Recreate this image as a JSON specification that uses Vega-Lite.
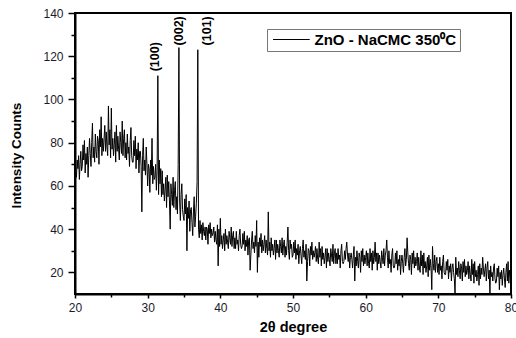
{
"$schema": "https://vega.github.io/schema/vega-lite/v6.json",
"width": 436, "height": 281,
"autosize": {"type": "none"},
"padding": {"left": 75, "top": 13, "right": 5, "bottom": 44},
"background": "white",
"config": {
  "view": {"stroke": "black", "strokeWidth": 2},
  "font": "Liberation Sans",
  "axis": {"domainColor": "black", "domainWidth": 2, "tickColor": "black", "tickWidth": 1.5, "grid": false, "labelFlush": false, "labelFont": "Liberation Sans", "labelFontSize": 12, "labelColor": "#1a1a2a", "titleFont": "Liberation Sans", "titleFontWeight": "bold", "titleColor": "black"}
},
"resolve": {"axis": {"x": "independent", "y": "independent"}},
"layer": [
{
"data": {"values": [
{"x":20.0,"y":62},{"x":20.1,"y":66},{"x":20.2,"y":64},{"x":20.3,"y":72},{"x":20.4,"y":68},{"x":20.5,"y":74},{"x":20.6,"y":63},{"x":20.7,"y":70},{"x":20.8,"y":76},{"x":20.9,"y":67},
{"x":21.0,"y":69},{"x":21.1,"y":79},{"x":21.2,"y":72},{"x":21.3,"y":81},{"x":21.4,"y":66},{"x":21.5,"y":75},{"x":21.6,"y":70},{"x":21.7,"y":78},{"x":21.8,"y":64},{"x":21.9,"y":74},
{"x":22.0,"y":82},{"x":22.1,"y":75},{"x":22.2,"y":69},{"x":22.3,"y":80},{"x":22.4,"y":89},{"x":22.5,"y":73},{"x":22.6,"y":78},{"x":22.7,"y":71},{"x":22.8,"y":84},{"x":22.9,"y":76},
{"x":23.0,"y":73},{"x":23.1,"y":83},{"x":23.2,"y":81},{"x":23.3,"y":70},{"x":23.4,"y":86},{"x":23.5,"y":78},{"x":23.6,"y":92},{"x":23.7,"y":74},{"x":23.8,"y":82},{"x":23.9,"y":76},
{"x":24.0,"y":82},{"x":24.1,"y":88},{"x":24.2,"y":76},{"x":24.3,"y":85},{"x":24.4,"y":78},{"x":24.5,"y":74},{"x":24.6,"y":97},{"x":24.7,"y":79},{"x":24.8,"y":86},{"x":24.9,"y":73},
{"x":25.0,"y":96},{"x":25.1,"y":77},{"x":25.2,"y":82},{"x":25.3,"y":74},{"x":25.4,"y":79},{"x":25.5,"y":85},{"x":25.6,"y":71},{"x":25.7,"y":88},{"x":25.8,"y":76},{"x":25.9,"y":83},
{"x":26.0,"y":77},{"x":26.1,"y":72},{"x":26.2,"y":85},{"x":26.3,"y":80},{"x":26.4,"y":75},{"x":26.5,"y":90},{"x":26.6,"y":74},{"x":26.7,"y":82},{"x":26.8,"y":86},{"x":26.9,"y":73},
{"x":27.0,"y":80},{"x":27.1,"y":72},{"x":27.2,"y":84},{"x":27.3,"y":75},{"x":27.4,"y":78},{"x":27.5,"y":69},{"x":27.6,"y":81},{"x":27.7,"y":87},{"x":27.8,"y":74},{"x":27.9,"y":71},
{"x":28.0,"y":71},{"x":28.1,"y":81},{"x":28.2,"y":74},{"x":28.3,"y":83},{"x":28.4,"y":68},{"x":28.5,"y":77},{"x":28.6,"y":72},{"x":28.7,"y":80},{"x":28.8,"y":66},{"x":28.9,"y":76},
{"x":29.0,"y":76},{"x":29.1,"y":69},{"x":29.2,"y":48},{"x":29.3,"y":74},{"x":29.4,"y":82},{"x":29.5,"y":67},{"x":29.6,"y":72},{"x":29.7,"y":65},{"x":29.8,"y":78},{"x":29.9,"y":70},
{"x":30.0,"y":60},{"x":30.1,"y":70},{"x":30.2,"y":68},{"x":30.3,"y":57},{"x":30.4,"y":72},{"x":30.5,"y":65},{"x":30.6,"y":82},{"x":30.7,"y":61},{"x":30.8,"y":69},{"x":30.9,"y":63},
{"x":31.0,"y":64},{"x":31.1,"y":70},{"x":31.2,"y":58},{"x":31.3,"y":67},{"x":31.4,"y":111},{"x":31.5,"y":56},{"x":31.6,"y":72},{"x":31.7,"y":61},{"x":31.8,"y":68},{"x":31.9,"y":55},
{"x":32.0,"y":67},{"x":32.1,"y":56},{"x":32.2,"y":61},{"x":32.3,"y":53},{"x":32.4,"y":58},{"x":32.5,"y":64},{"x":32.6,"y":50},{"x":32.7,"y":65},{"x":32.8,"y":55},{"x":32.9,"y":62},
{"x":33.0,"y":53},{"x":33.1,"y":40},{"x":33.2,"y":61},{"x":33.3,"y":56},{"x":33.4,"y":51},{"x":33.5,"y":64},{"x":33.6,"y":50},{"x":33.7,"y":58},{"x":33.8,"y":62},{"x":33.9,"y":49},
{"x":34.0,"y":55},{"x":34.1,"y":47},{"x":34.2,"y":70},{"x":34.3,"y":124},{"x":34.4,"y":53},{"x":34.5,"y":44},{"x":34.6,"y":56},{"x":34.7,"y":61},{"x":34.8,"y":49},{"x":34.9,"y":46},
{"x":35.0,"y":44},{"x":35.1,"y":54},{"x":35.2,"y":47},{"x":35.3,"y":56},{"x":35.4,"y":30},{"x":35.5,"y":50},{"x":35.6,"y":45},{"x":35.7,"y":53},{"x":35.8,"y":39},{"x":35.9,"y":49},
{"x":36.0,"y":50},{"x":36.1,"y":43},{"x":36.2,"y":37},{"x":36.3,"y":48},{"x":36.4,"y":55},{"x":36.5,"y":41},{"x":36.6,"y":46},{"x":36.7,"y":52},{"x":36.8,"y":62},{"x":36.9,"y":123},
{"x":37.0,"y":40},{"x":37.1,"y":36},{"x":37.2,"y":44},{"x":37.3,"y":38},{"x":37.4,"y":42},{"x":37.5,"y":35},{"x":37.6,"y":43},{"x":37.7,"y":39},{"x":37.8,"y":37},{"x":37.9,"y":41},
{"x":38.0,"y":35},{"x":38.1,"y":41},{"x":38.2,"y":40},{"x":38.3,"y":33},{"x":38.4,"y":42},{"x":38.5,"y":38},{"x":38.6,"y":43},{"x":38.7,"y":36},{"x":38.8,"y":40},{"x":38.9,"y":37},
{"x":39.0,"y":38},{"x":39.1,"y":41},{"x":39.2,"y":34},{"x":39.3,"y":39},{"x":39.4,"y":35},{"x":39.5,"y":33},{"x":39.6,"y":42},{"x":39.7,"y":23},{"x":39.8,"y":40},{"x":39.9,"y":32},
{"x":40.0,"y":45},{"x":40.1,"y":33},{"x":40.2,"y":37},{"x":40.3,"y":31},{"x":40.4,"y":35},{"x":40.5,"y":38},{"x":40.6,"y":30},{"x":40.7,"y":40},{"x":40.8,"y":33},{"x":40.9,"y":37},
{"x":41.0,"y":34},{"x":41.1,"y":31},{"x":41.2,"y":39},{"x":41.3,"y":36},{"x":41.4,"y":33},{"x":41.5,"y":41},{"x":41.6,"y":32},{"x":41.7,"y":37},{"x":41.8,"y":39},{"x":41.9,"y":31},
{"x":42.0,"y":36},{"x":42.1,"y":31},{"x":42.2,"y":39},{"x":42.3,"y":33},{"x":42.4,"y":35},{"x":42.5,"y":30},{"x":42.6,"y":37},{"x":42.7,"y":40},{"x":42.8,"y":33},{"x":42.9,"y":31},
{"x":43.0,"y":32},{"x":43.1,"y":38},{"x":43.2,"y":33},{"x":43.3,"y":39},{"x":43.4,"y":30},{"x":43.5,"y":35},{"x":43.6,"y":32},{"x":43.7,"y":37},{"x":43.8,"y":28},{"x":43.9,"y":35},
{"x":44.0,"y":36},{"x":44.1,"y":21},{"x":44.2,"y":28},{"x":44.3,"y":35},{"x":44.4,"y":39},{"x":44.5,"y":31},{"x":44.6,"y":34},{"x":44.7,"y":29},{"x":44.8,"y":37},{"x":44.9,"y":32},
{"x":45.0,"y":44},{"x":45.1,"y":20},{"x":45.2,"y":34},{"x":45.3,"y":27},{"x":45.4,"y":36},{"x":45.5,"y":32},{"x":45.6,"y":38},{"x":45.7,"y":29},{"x":45.8,"y":35},{"x":45.9,"y":30},
{"x":46.0,"y":33},{"x":46.1,"y":37},{"x":46.2,"y":29},{"x":46.3,"y":35},{"x":46.4,"y":31},{"x":46.5,"y":28},{"x":46.6,"y":48},{"x":46.7,"y":30},{"x":46.8,"y":34},{"x":46.9,"y":27},
{"x":47.0,"y":36},{"x":47.1,"y":30},{"x":47.2,"y":33},{"x":47.3,"y":28},{"x":47.4,"y":31},{"x":47.5,"y":35},{"x":47.6,"y":26},{"x":47.7,"y":35},{"x":47.8,"y":29},{"x":47.9,"y":33},
{"x":48.0,"y":30},{"x":48.1,"y":27},{"x":48.2,"y":35},{"x":48.3,"y":32},{"x":48.4,"y":29},{"x":48.5,"y":36},{"x":48.6,"y":28},{"x":48.7,"y":33},{"x":48.8,"y":35},{"x":48.9,"y":27},
{"x":49.0,"y":32},{"x":49.1,"y":28},{"x":49.2,"y":34},{"x":49.3,"y":41},{"x":49.4,"y":30},{"x":49.5,"y":26},{"x":49.6,"y":35},{"x":49.7,"y":31},{"x":49.8,"y":33},{"x":49.9,"y":27},
{"x":50.0,"y":28},{"x":50.1,"y":34},{"x":50.2,"y":29},{"x":50.3,"y":35},{"x":50.4,"y":26},{"x":50.5,"y":31},{"x":50.6,"y":28},{"x":50.7,"y":33},{"x":50.8,"y":24},{"x":50.9,"y":30},
{"x":51.0,"y":32},{"x":51.1,"y":28},{"x":51.2,"y":24},{"x":51.3,"y":31},{"x":51.4,"y":35},{"x":51.5,"y":27},{"x":51.6,"y":30},{"x":51.7,"y":26},{"x":51.8,"y":33},{"x":51.9,"y":16},
{"x":52.0,"y":25},{"x":52.1,"y":31},{"x":52.2,"y":30},{"x":52.3,"y":23},{"x":52.4,"y":32},{"x":52.5,"y":28},{"x":52.6,"y":34},{"x":52.7,"y":26},{"x":52.8,"y":30},{"x":52.9,"y":27},
{"x":53.0,"y":29},{"x":53.1,"y":32},{"x":53.2,"y":25},{"x":53.3,"y":31},{"x":53.4,"y":26},{"x":53.5,"y":24},{"x":53.6,"y":34},{"x":53.7,"y":27},{"x":53.8,"y":31},{"x":53.9,"y":23},
{"x":54.0,"y":32},{"x":54.1,"y":26},{"x":54.2,"y":29},{"x":54.3,"y":24},{"x":54.4,"y":27},{"x":54.5,"y":31},{"x":54.6,"y":22},{"x":54.7,"y":31},{"x":54.8,"y":25},{"x":54.9,"y":29},
{"x":55.0,"y":26},{"x":55.1,"y":23},{"x":55.2,"y":31},{"x":55.3,"y":28},{"x":55.4,"y":25},{"x":55.5,"y":33},{"x":55.6,"y":24},{"x":55.7,"y":29},{"x":55.8,"y":31},{"x":55.9,"y":24},
{"x":56.0,"y":29},{"x":56.1,"y":24},{"x":56.2,"y":31},{"x":56.3,"y":26},{"x":56.4,"y":28},{"x":56.5,"y":22},{"x":56.6,"y":30},{"x":56.7,"y":33},{"x":56.8,"y":25},{"x":56.9,"y":24},
{"x":57.0,"y":25},{"x":57.1,"y":30},{"x":57.2,"y":26},{"x":57.3,"y":31},{"x":57.4,"y":34},{"x":57.5,"y":28},{"x":57.6,"y":25},{"x":57.7,"y":29},{"x":57.8,"y":22},{"x":57.9,"y":27},
{"x":58.0,"y":29},{"x":58.1,"y":26},{"x":58.2,"y":22},{"x":58.3,"y":28},{"x":58.4,"y":32},{"x":58.5,"y":16},{"x":58.6,"y":27},{"x":58.7,"y":23},{"x":58.8,"y":30},{"x":58.9,"y":25},
{"x":59.0,"y":22},{"x":59.1,"y":29},{"x":59.2,"y":27},{"x":59.3,"y":20},{"x":59.4,"y":30},{"x":59.5,"y":25},{"x":59.6,"y":31},{"x":59.7,"y":23},{"x":59.8,"y":28},{"x":59.9,"y":24},
{"x":60.0,"y":27},{"x":60.1,"y":30},{"x":60.2,"y":23},{"x":60.3,"y":29},{"x":60.4,"y":24},{"x":60.5,"y":22},{"x":60.6,"y":31},{"x":60.7,"y":25},{"x":60.8,"y":29},{"x":60.9,"y":21},
{"x":61.0,"y":30},{"x":61.1,"y":24},{"x":61.2,"y":27},{"x":61.3,"y":34},{"x":61.4,"y":25},{"x":61.5,"y":29},{"x":61.6,"y":21},{"x":61.7,"y":29},{"x":61.8,"y":24},{"x":61.9,"y":28},
{"x":62.0,"y":25},{"x":62.1,"y":22},{"x":62.2,"y":30},{"x":62.3,"y":27},{"x":62.4,"y":24},{"x":62.5,"y":31},{"x":62.6,"y":23},{"x":62.7,"y":28},{"x":62.8,"y":30},{"x":62.9,"y":35},
{"x":63.0,"y":27},{"x":63.1,"y":22},{"x":63.2,"y":30},{"x":63.3,"y":24},{"x":63.4,"y":26},{"x":63.5,"y":20},{"x":63.6,"y":28},{"x":63.7,"y":31},{"x":63.8,"y":23},{"x":63.9,"y":22},
{"x":64.0,"y":23},{"x":64.1,"y":29},{"x":64.2,"y":24},{"x":64.3,"y":30},{"x":64.4,"y":21},{"x":64.5,"y":26},{"x":64.6,"y":23},{"x":64.7,"y":28},{"x":64.8,"y":19},{"x":64.9,"y":25},
{"x":65.0,"y":28},{"x":65.1,"y":24},{"x":65.2,"y":20},{"x":65.3,"y":27},{"x":65.4,"y":31},{"x":65.5,"y":23},{"x":65.6,"y":26},{"x":65.7,"y":36},{"x":65.8,"y":29},{"x":65.9,"y":24},
{"x":66.0,"y":21},{"x":66.1,"y":28},{"x":66.2,"y":26},{"x":66.3,"y":19},{"x":66.4,"y":29},{"x":66.5,"y":24},{"x":66.6,"y":30},{"x":66.7,"y":22},{"x":66.8,"y":27},{"x":66.9,"y":23},
{"x":67.0,"y":25},{"x":67.1,"y":29},{"x":67.2,"y":21},{"x":67.3,"y":27},{"x":67.4,"y":22},{"x":67.5,"y":20},{"x":67.6,"y":30},{"x":67.7,"y":23},{"x":67.8,"y":28},{"x":67.9,"y":19},
{"x":68.0,"y":29},{"x":68.1,"y":22},{"x":68.2,"y":25},{"x":68.3,"y":20},{"x":68.4,"y":23},{"x":68.5,"y":27},{"x":68.6,"y":18},{"x":68.7,"y":28},{"x":68.8,"y":21},{"x":68.9,"y":26},
{"x":69.0,"y":22},{"x":69.1,"y":12},{"x":69.2,"y":32},{"x":69.3,"y":24},{"x":69.4,"y":21},{"x":69.5,"y":28},{"x":69.6,"y":20},{"x":69.7,"y":25},{"x":69.8,"y":27},{"x":69.9,"y":20},
{"x":70.0,"y":24},{"x":70.1,"y":19},{"x":70.2,"y":27},{"x":70.3,"y":21},{"x":70.4,"y":23},{"x":70.5,"y":17},{"x":70.6,"y":25},{"x":70.7,"y":28},{"x":70.8,"y":20},{"x":70.9,"y":19},
{"x":71.0,"y":19},{"x":71.1,"y":25},{"x":71.2,"y":21},{"x":71.3,"y":26},{"x":71.4,"y":17},{"x":71.5,"y":23},{"x":71.6,"y":20},{"x":71.7,"y":24},{"x":71.8,"y":16},{"x":71.9,"y":22},
{"x":72.0,"y":24},{"x":72.1,"y":20},{"x":72.2,"y":17},{"x":72.3,"y":10},{"x":72.4,"y":27},{"x":72.5,"y":19},{"x":72.6,"y":22},{"x":72.7,"y":18},{"x":72.8,"y":25},{"x":72.9,"y":21},
{"x":73.0,"y":17},{"x":73.1,"y":24},{"x":73.2,"y":22},{"x":73.3,"y":16},{"x":73.4,"y":25},{"x":73.5,"y":20},{"x":73.6,"y":26},{"x":73.7,"y":18},{"x":73.8,"y":23},{"x":73.9,"y":19},
{"x":74.0,"y":21},{"x":74.1,"y":25},{"x":74.2,"y":17},{"x":74.3,"y":23},{"x":74.4,"y":19},{"x":74.5,"y":16},{"x":74.6,"y":26},{"x":74.7,"y":19},{"x":74.8,"y":24},{"x":74.9,"y":15},
{"x":75.0,"y":25},{"x":75.1,"y":18},{"x":75.2,"y":21},{"x":75.3,"y":16},{"x":75.4,"y":19},{"x":75.5,"y":23},{"x":75.6,"y":14},{"x":75.7,"y":24},{"x":75.8,"y":17},{"x":75.9,"y":22},
{"x":76.0,"y":19},{"x":76.1,"y":27},{"x":76.2,"y":22},{"x":76.3,"y":18},{"x":76.4,"y":21},{"x":76.5,"y":24},{"x":76.6,"y":16},{"x":76.7,"y":22},{"x":76.8,"y":25},{"x":76.9,"y":17},
{"x":77.0,"y":21},{"x":77.1,"y":10},{"x":77.2,"y":23},{"x":77.3,"y":18},{"x":77.4,"y":20},{"x":77.5,"y":16},{"x":77.6,"y":22},{"x":77.7,"y":24},{"x":77.8,"y":17},{"x":77.9,"y":15},
{"x":78.0,"y":16},{"x":78.1,"y":22},{"x":78.2,"y":18},{"x":78.3,"y":23},{"x":78.4,"y":12},{"x":78.5,"y":20},{"x":78.6,"y":17},{"x":78.7,"y":21},{"x":78.8,"y":14},{"x":78.9,"y":19},
{"x":79.0,"y":22},{"x":79.1,"y":17},{"x":79.2,"y":13},{"x":79.3,"y":20},{"x":79.4,"y":24},{"x":79.5,"y":16},{"x":79.6,"y":25},{"x":79.7,"y":15},{"x":79.8,"y":21},{"x":79.9,"y":18},
{"x":80.0,"y":12}
]},
"mark": {"type": "line", "strokeWidth": 1, "interpolate": "linear"},
"encoding": {
  "x": {"field": "x", "type": "quantitative", "scale": {"domain": [20, 80], "nice": false, "zero": false},
    "axis": {"orient": "bottom", "title": "2θ degree", "values": [20,30,40,50,60,70,80], "tickSize": 4, "labelPadding": 4, "labelOverlap": false, "labelFlush": false, "titleFontSize": 14.5, "titleBaseline": "alphabetic", "titleY": 37}},
  "y": {"field": "y", "type": "quantitative", "scale": {"domain": [10, 140], "nice": false, "zero": false},
    "axis": {"orient": "left", "title": "Intensity Counts", "values": [20,40,60,80,100,120,140], "tickSize": 7, "labelPadding": 5, "labelOverlap": false, "labelFlush": false, "titleFontSize": 13.5, "titleBaseline": "alphabetic", "titleAngle": 270, "titleX": -55, "titleY": 142}},
  "color": {"datum": "ZnO - NaCMC 350⁰C", "type": "nominal", "scale": {"range": ["black"]},
    "legend": {"orient": "none", "legendX": 192, "legendY": 16, "title": null, "symbolType": "M-0.72,0H5.26", "symbolSize": 150, "symbolStrokeWidth": 1, "symbolStrokeColor": "#555", "symbolFillColor": "transparent", "labelFont": "Liberation Sans", "labelFontSize": 15, "labelFontWeight": "bold", "labelColor": "black", "labelOffset": 29.5, "labelLimit": 300, "padding": 3, "strokeColor": "#777", "fillColor": "white", "cornerRadius": 0}}
}
},
{
"data": {"values": [{"x": 31.0, "y": 113, "label": "(100)"}, {"x": 34.37, "y": 125, "label": "(002)"}, {"x": 38.2, "y": 125, "label": "(101)"}]},
"mark": {"type": "text", "angle": 270, "align": "left", "baseline": "middle", "fontWeight": "bold", "fontSize": 12.5, "font": "Liberation Sans", "color": "black"},
"encoding": {
  "x": {"field": "x", "type": "quantitative", "axis": {"orient": "bottom", "values": [25,35,45,55,65,75], "labels": false, "domain": false, "tickSize": 3, "title": null}},
  "y": {"field": "y", "type": "quantitative", "axis": {"orient": "left", "values": [30,50,70,90,110,130], "labels": false, "domain": false, "tickSize": 4, "title": null}},
  "text": {"field": "label"}
}
}
]
}
